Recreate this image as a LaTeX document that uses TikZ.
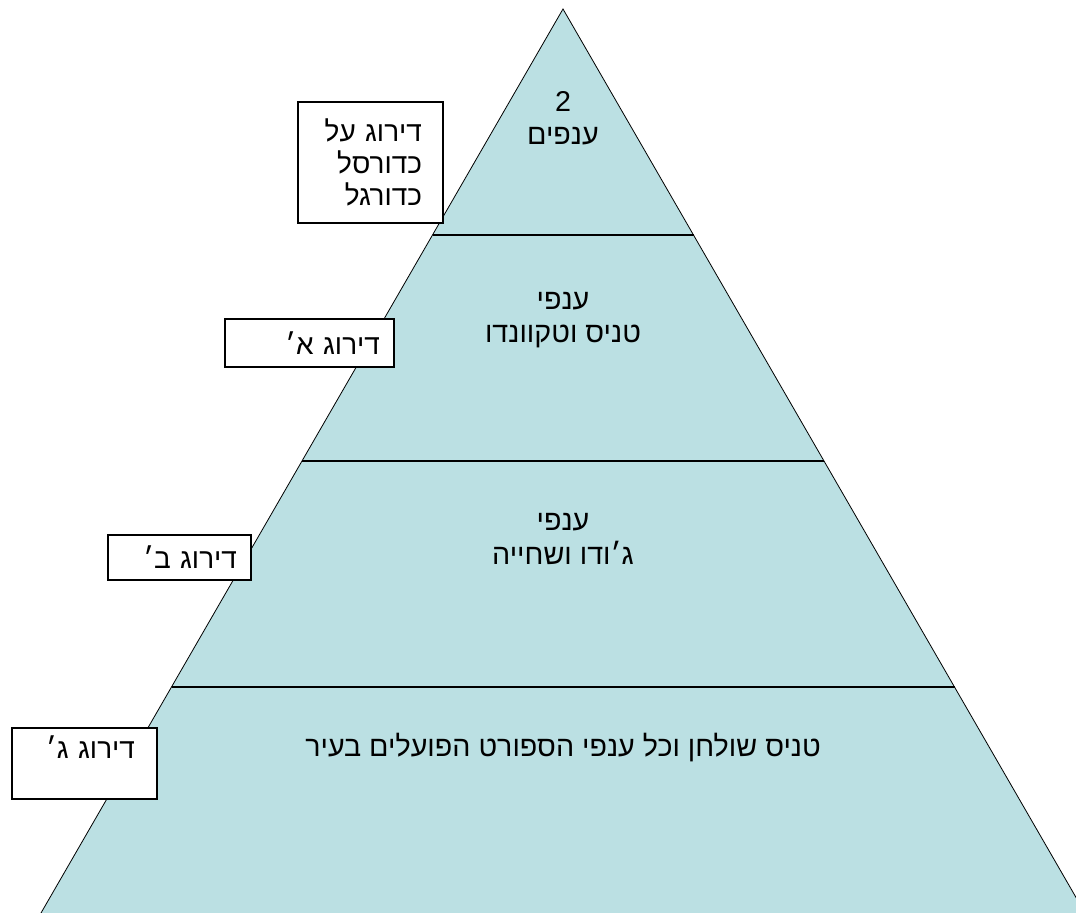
\documentclass[tikz,border=0pt]{standalone}
\usepackage{fontspec}
\setmainfont{Liberation Sans}
\newfontfamily\hebfont[Script=Hebrew]{Liberation Sans}
\TeXXeTstate=1
\usepackage{tikz}
\usetikzlibrary{shapes,arrows,positioning,calc}
\definecolor{pyrfill}{RGB}{187,224,227}

\begin{document}
\begin{tikzpicture}[x=0.75pt, y=-0.75pt,
        every node/.style={font=\hebfont\fontsize{21}{24}\selectfont},
        rankbox/.style={rectangle, draw, line width=1.5pt, fill=white, align=right, inner ysep=0pt},
        tier/.style={align=center, font=\hebfont\fontsize{21.5}{25}\selectfont}]
        \useasboundingbox (0,0) rectangle (1076,913);
        \clip (0,0) rectangle (1076,913);
        \coordinate (apex) at (563,9);
        \coordinate (bl) at (41,913);
        \coordinate (br) at (1085,913);
        \fill[pyrfill] (apex) -- (bl) -- (br) -- cycle;
        \draw[line width=0.6pt] (bl) -- (apex) -- (br);
        \foreach \t/\n in {0.25/1, 0.5/2, 0.75/3} {
            \coordinate (l\n) at ($(apex)!\t!(bl)$);
            \coordinate (r\n) at ($(apex)!\t!(br)$);
            \draw[line width=1.1pt] (l\n) -- (r\n);
        }
        \node (t1) [tier] at (563,118) {2\\\beginR ענפים\endR};
        \node (t2) [tier] at (563,320) {\beginR ענפי\endR\\\beginR טניס וטקוונדו\endR};
        \node (t3) [tier] at (563,539) {\beginR ענפי\endR\\\beginR ג׳ודו ושחייה\endR};
        \node (t4) [tier] at (563,748) {\beginR טניס שולחן וכל ענפי הספורט הפועלים בעיר\endR};
        \node (b1) [rankbox, minimum width=108.75pt, minimum height=90.75pt, inner xsep=15.75pt, text width=77.25pt] at (370.5,162.5) {\beginR דירוג על\endR\\\beginR כדורסל\endR\\\beginR כדורגל\endR};
        \node (b2) [rankbox, minimum width=126.75pt, minimum height=36pt, inner xsep=10.5pt, text width=105.75pt] at (309.5,343) {\beginR דירוג א׳\endR};
        \node (b3) [rankbox, minimum width=107.25pt, minimum height=33.75pt, inner xsep=10.5pt, text width=86.25pt] at (179.5,557.5) {\beginR דירוג ב׳\endR};
        \node (b4) [rankbox, minimum width=108.75pt, minimum height=53.25pt, inner xsep=16.5pt, text width=75.75pt, text depth=24pt] at (84.5,763.5) {\beginR דירוג ג׳\endR};
    \end{tikzpicture}
\end{document}
